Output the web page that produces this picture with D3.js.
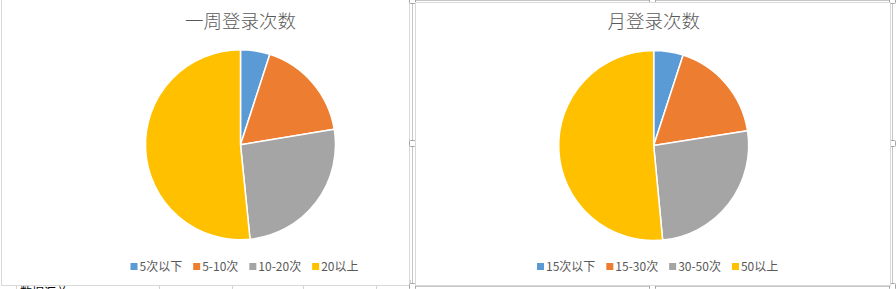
<!DOCTYPE html>
<html><head><meta charset="utf-8">
<script src="https://cdn.jsdelivr.net/npm/d3@7"></script>
<style>
html,body{margin:0;padding:0;background:#fff;overflow:hidden;}
svg{display:block;}
text{font-family:"Noto Sans CJK SC","Noto Sans",sans-serif;}
</style></head>
<body>
<script>
// ---- data ----
const colors = ["#5B9BD5", "#ED7D31", "#A5A5A5", "#FFC000"];
const weekTitle = "一周登录次数";
const weekCategories = ["5次以下", "5-10次", "10-20次", "20以上"];
const weekValues = [5, 17.4, 26, 51.6];
const monthTitle = "月登录次数";
const monthCategories = ["15次以下", "15-30次", "30-50次", "50以上"];
const monthValues = [5, 17.5, 26, 51.5];

const W = 896, H = 289;
const svg = d3.select("body").append("svg").attr("width", W).attr("height", H);

// spreadsheet background peeking below the charts
const gridXs = [16, 159, 232, 303, 376, 410];
svg.selectAll("line.grid").data(gridXs).enter().append("line")
  .attr("x1", d => d + 0.5).attr("x2", d => d + 0.5)
  .attr("y1", 280).attr("y2", H)
  .attr("stroke", "#d4d4d4").attr("stroke-width", 1);
svg.append("defs").append("clipPath").attr("id", "cellclip")
  .append("rect").attr("x", 16).attr("y", 285).attr("width", 140).attr("height", 10);
svg.append("text").attr("x", 20).attr("y", 297)
  .attr("clip-path", "url(#cellclip)")
  .attr("font-size", 12).attr("fill", "#000").text("数据汇总");

function drawChart(opt) {
  const g = svg.append("g");
  // chart area
  g.append("rect").attr("x", opt.box[0] + 0.5).attr("y", opt.box[1] + 0.5)
    .attr("width", opt.box[2] - opt.box[0]).attr("height", opt.box[3] - opt.box[1])
    .attr("fill", "#fff").attr("stroke", "#d9d9d9").attr("stroke-width", 1);

  // title
  g.append("text").attr("x", opt.cx).attr("y", 28)
    .attr("text-anchor", "middle").attr("font-size", 18.5).attr("font-weight", 300)
    .attr("fill", "#595959").text(opt.title);

  // pie
  const pie = d3.pie().sort(null).value(d => d.v);
  const arc = d3.arc().innerRadius(0).outerRadius(opt.r);
  const color = d3.scaleOrdinal().domain(opt.categories).range(colors);
  const data = opt.categories.map((c, i) => ({ c, v: opt.values[i] }));
  g.append("g").attr("transform", `translate(${opt.cx},${opt.cy})`)
    .selectAll("path").data(pie(data)).enter().append("path")
    .attr("d", arc).attr("fill", d => color(d.data.c))
    .attr("stroke", "#fff").attr("stroke-width", 1.5).attr("stroke-linejoin", "round");

  // legend
  const lg = g.append("g");
  let x = opt.legendX;
  const ly = 267;
  opt.categories.forEach((c, i) => {
    lg.append("rect").attr("x", x).attr("y", ly - 4).attr("width", 7).attr("height", 7)
      .attr("fill", color(c));
    const t = lg.append("text").attr("x", x + 9).attr("y", ly).attr("dy", "0.35em")
      .attr("font-size", 12).attr("fill", "#595959").text(c);
    x += 9 + t.node().getComputedTextLength() + 11;
  });
}

// left chart (plain border)
drawChart({ box: [1, -2, 409, 285], cx: 240.5, cy: 144.7, r: 95,
  title: weekTitle, categories: weekCategories, values: weekValues, legendX: 130.5 });

// right chart (selected: frame + handles)
const sel = svg.append("g");
sel.append("rect").attr("x", 412.5).attr("y", 0.5).attr("width", 480).attr("height", 286)
  .attr("fill", "none").attr("stroke", "#c6c6c6");
drawChart({ box: [415, 2, 890, 285], cx: 653.7, cy: 145.5, r: 95,
  title: monthTitle, categories: monthCategories, values: monthValues, legendX: 537 });
const handles = [[412.5, 0.5], [652.5, 0.5], [892.5, 0.5], [412.5, 143.5], [892.5, 143.5],
  [412.5, 286.5], [652.5, 286.5], [892.5, 286.5]];
sel.selectAll("rect.h").data(handles).enter().append("rect")
  .attr("x", d => d[0] - 3).attr("y", d => d[1] - 3).attr("width", 6).attr("height", 6)
  .attr("rx", 1).attr("fill", "#fff").attr("stroke", "#a6a6a6");
</script>
</body></html>
